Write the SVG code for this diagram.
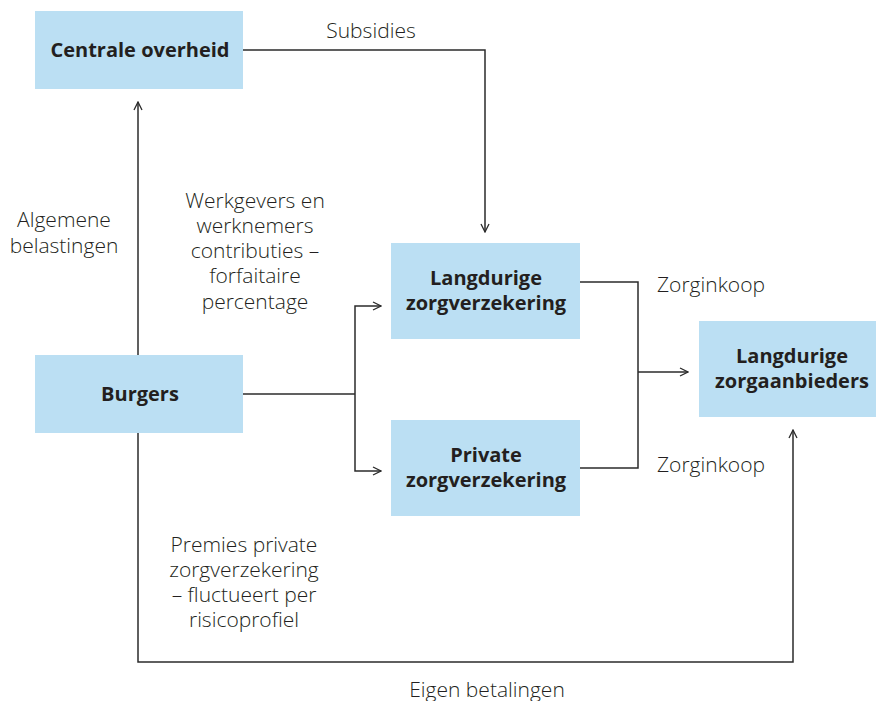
<svg xmlns="http://www.w3.org/2000/svg" width="876" height="701" viewBox="0 0 876 701">
  <defs>
    <marker id="arrow" viewBox="0 0 10 10" refX="9" refY="5" markerWidth="10" markerHeight="10" markerUnits="userSpaceOnUse" orient="auto">
      <path d="M1,1 L9,5 L1,9" fill="none" stroke="#2b2b2b" stroke-width="1.3"/>
    </marker>
  </defs>
  <style>
    .box { fill: #bbdff3; }
    .title { font-family: "Open Sans", "Noto Sans", sans-serif; font-weight: bold; font-size: 20px; fill: #231f20; text-anchor: middle; }
    .label { font-family: "Open Sans", "Noto Sans", sans-serif; font-weight: 300; font-size: 21px; fill: #231f20; text-anchor: middle; }
    .wire { fill: none; stroke: #2b2b2b; stroke-width: 1.5; }
  </style>
  <rect width="876" height="701" fill="#ffffff"/>

  <g id="centrale-overheid">
    <rect class="box" x="35" y="11" width="208" height="78"/>
    <text class="title" x="140" y="57">Centrale overheid</text>
  </g>
  <g id="burgers">
    <rect class="box" x="35" y="355" width="208" height="78"/>
    <text class="title" x="140" y="401">Burgers</text>
  </g>
  <g id="langdurige-zorgverzekering">
    <rect class="box" x="391" y="243" width="189" height="96"/>
    <text class="title" x="486" y="285">Langdurige</text>
    <text class="title" x="486" y="310">zorgverzekering</text>
  </g>
  <g id="private-zorgverzekering">
    <rect class="box" x="391" y="420" width="189" height="96"/>
    <text class="title" x="486" y="462">Private</text>
    <text class="title" x="486" y="487">zorgverzekering</text>
  </g>
  <g id="langdurige-zorgaanbieders">
    <rect class="box" x="699" y="321" width="177" height="96"/>
    <text class="title" x="792" y="363">Langdurige</text>
    <text class="title" x="792" y="388">zorgaanbieders</text>
  </g>

  <g id="connectors">
    <path class="wire" d="M243,50 H485 V232" marker-end="url(#arrow)"/>
    <path class="wire" d="M138,355 V102" marker-end="url(#arrow)"/>
    <path class="wire" d="M243,394 H355"/>
    <path class="wire" d="M355,394 V306 H381" marker-end="url(#arrow)"/>
    <path class="wire" d="M355,394 V471 H381" marker-end="url(#arrow)"/>
    <path class="wire" d="M580,282 H638 V468 H580"/>
    <path class="wire" d="M638,372 H688" marker-end="url(#arrow)"/>
    <path class="wire" d="M138,433 V662 H793 V430" marker-end="url(#arrow)"/>
  </g>

  <g id="labels">
    <text class="label" x="371" y="38">Subsidies</text>
    <text class="label" x="64" y="227">Algemene</text>
    <text class="label" x="64" y="253">belastingen</text>
    <text class="label" x="255" y="208">Werkgevers en</text>
    <text class="label" x="255" y="233">werknemers</text>
    <text class="label" x="255" y="258">contributies –</text>
    <text class="label" x="255" y="283">forfaitaire</text>
    <text class="label" x="255" y="309">percentage</text>
    <text class="label" x="711" y="292">Zorginkoop</text>
    <text class="label" x="711" y="472">Zorginkoop</text>
    <text class="label" x="244" y="552">Premies private</text>
    <text class="label" x="244" y="577">zorgverzekering</text>
    <text class="label" x="244" y="602">– fluctueert per</text>
    <text class="label" x="244" y="627">risicoprofiel</text>
    <text class="label" x="487" y="697">Eigen betalingen</text>
  </g>
</svg>
